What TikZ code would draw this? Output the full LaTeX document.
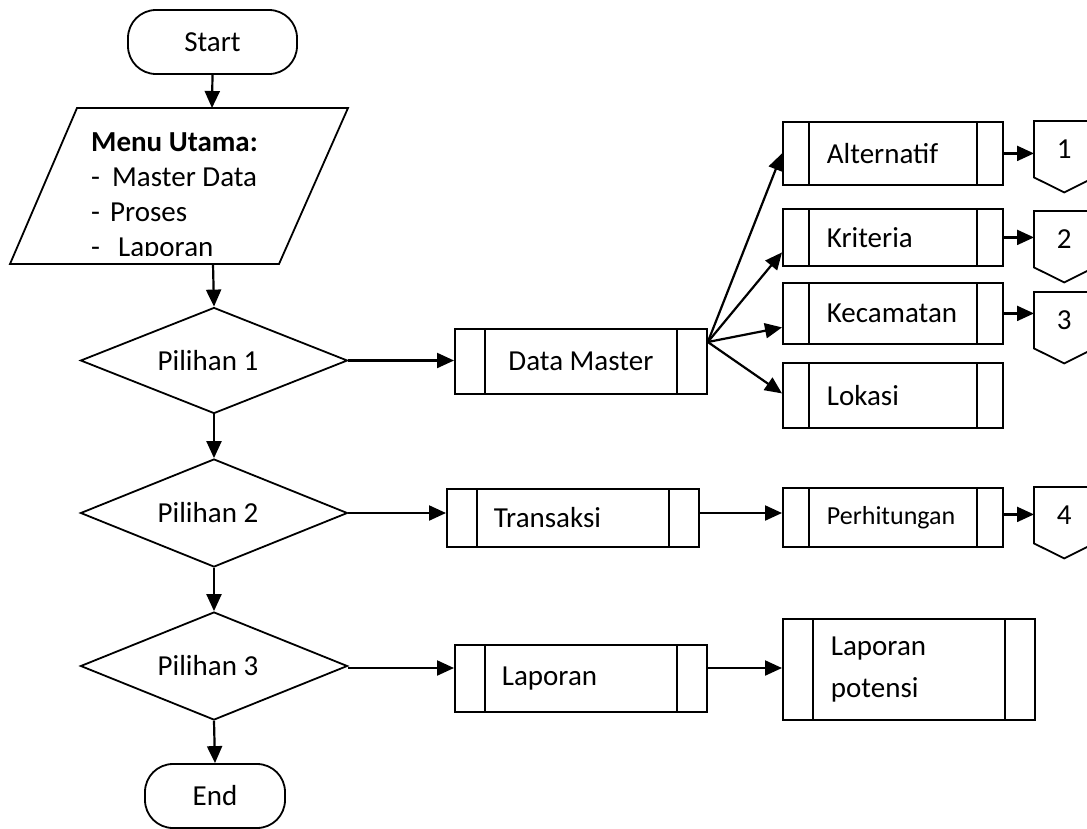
\documentclass[tikz,border=0pt]{standalone}
\usepackage{fontspec}
\setmainfont{Carlito}
\usetikzlibrary{shapes.geometric,arrows.meta}
\hyphenpenalty=10000
\exhyphenpenalty=10000
\begin{document}
\begin{tikzpicture}[x=1pt,y=-1pt,
  every node/.style={font=\fontsize{29pt}{35pt}\selectfont},
  shape line/.style={line width=1.8pt},
  terminal/.style={draw, shape line, rectangle, rounded corners=28pt, minimum height=64pt},
  decision/.style={draw, shape line, diamond, aspect=2.52, inner sep=0pt,
    minimum width=267pt, minimum height=106pt},
  procbox/.style={draw, shape line, rectangle, anchor=north west, inner ysep=0pt,
    path picture={
      \draw[line width=1.5pt]
        ([xshift=#1]path picture bounding box.north west) -- ([xshift=#1]path picture bounding box.south west)
        ([xshift=-#1]path picture bounding box.north east) -- ([xshift=-#1]path picture bounding box.south east);
    }},
  padtext/.style 2 args={text width=#1, inner xsep=#2, align=left},
  offpage/.style={anchor=north west, minimum width=60pt, minimum height=56pt, inner sep=0pt},
  flow/.style={line width=2.2pt, -{Triangle[length=17pt,width=15pt]}},
]
\useasboundingbox (0,0) rectangle (1087,828);

% main column
\node[terminal, minimum width=169pt] (start) at (212.5,42) {Start};

\draw[shape line] (77,108) -- (348,108) -- (279,264) -- (10,264) -- cycle;
\coordinate (menutop) at (212,108);
\coordinate (menubot) at (213,264);
\begin{scope}
  \clip (0,100) rectangle (400,255);
  \node[anchor=north west, inner sep=0pt, align=left] (menu) at (91,132)
    {\textbf{Menu Utama:}\\
     \makebox[21pt][l]{-}Master Data\\
     \makebox[19pt][l]{-}Proses\\
     \makebox[27pt][l]{-}Laporan};
\end{scope}

\node[decision] (d1) at (214,360.5) {Pilihan 1\hspace*{12pt}};
\node[decision, minimum height=108pt] (d2) at (214,513) {Pilihan 2\hspace*{12pt}};
\node[decision, minimum height=108pt] (d3) at (214,666) {Pilihan 3\hspace*{12pt}};

\node[terminal, minimum width=140pt] (end) at (215,796) {End};

% master data branch
\node[procbox=30pt, minimum width=252pt, minimum height=65pt] (dm) at (454,328) {Data Master};
\node[procbox=26pt, padtext={132pt}{44pt}, minimum width=220pt, minimum height=63pt] (alt) at (782,121) {Alternatif};
\node[procbox=26pt, padtext={132pt}{44pt}, minimum width=220pt, minimum height=57pt] (kri) at (782,208) {Kriteria};
\node[procbox=26pt, padtext={132pt}{44pt}, minimum width=220pt, minimum height=61pt] (kec) at (782,282) {Kecamatan};
\node[procbox=26pt, padtext={132pt}{44pt}, minimum width=220pt, minimum height=65pt] (lok) at (782,362) {Lokasi};

% transaction branch
\node[procbox=30pt, padtext={158pt}{47pt}, minimum width=252pt, minimum height=58pt] (tr) at (446,488) {Transaksi};
\node[procbox=26pt, padtext={132pt}{44pt}, minimum width=220pt, minimum height=59pt,
      font=\fontsize{26pt}{31pt}\selectfont] (per) at (782,487) {Perhitungan};

% report branch
\node[procbox=30pt, padtext={158pt}{47pt}, minimum width=252pt, minimum height=67pt] (lap) at (454,644) {Laporan};
\node[procbox=30pt, padtext={156pt}{48pt}, minimum width=252pt, minimum height=101pt,
      font=\fontsize{29pt}{42pt}\selectfont] (lp) at (782,618) {Laporan\\potensi};

% off-page connectors
\node[offpage] (c1) at (1034,121) {1};
\node[offpage] (c2) at (1034,211) {2};
\node[offpage] (c3) at (1034,292) {3};
\node[offpage] (c4) at (1034,487) {4};
\foreach \n in {c1,c2,c3,c4}
  \draw[shape line] (\n.north west) -- (\n.north east) -- (\n.south east)
    -- ([yshift=-15pt]\n.south) -- (\n.south west) -- cycle;

% connectors
\draw[flow] (start.south) -- (menutop);
\draw[flow] (menubot) -- (d1.north);
\draw[flow] (d1.south) -- (d2.north);
\draw[flow] (d2.south) -- (d3.north);
\draw[flow] (d3.south) -- (end.north);

\draw[flow] (d1.east) -- (d1.east -| dm.west);
\draw[flow] (d2.east) -- (d2.east -| tr.west);
\draw[flow] (d2.east -| tr.east) -- (d2.east -| per.west);
\draw[flow] ([yshift=-2pt]d3.east) -- ([yshift=-2pt]d3.east -| lap.west);
\draw[flow] ([yshift=-2pt]d3.east -| lap.east) -- ([yshift=-2pt]d3.east -| lp.west);

\coordinate (fan) at ([yshift=-14pt]dm.north east);
\draw[flow] (fan) -- (alt.west);
\draw[flow] (fan) -- ([yshift=-15pt]kri.west);
\draw[flow] (fan) -- ([yshift=-14pt]kec.west);
\draw[flow] (fan) -- ([yshift=2pt]lok.west);

\draw[flow] (alt.east) -- (alt.east -| c1.west);
\draw[flow] (kri.east) -- (kri.east -| c2.west);
\draw[flow] (kec.east) -- (kec.east -| c3.west);
\draw[flow] ([yshift=3pt]per.east) -- ([yshift=3pt]per.east -| c4.west);
\end{tikzpicture}
\end{document}
